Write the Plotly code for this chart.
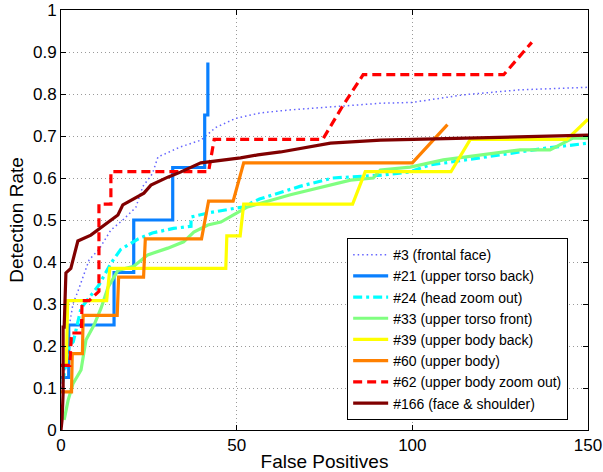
import plotly.graph_objects as go

# ---- data (False Positives, Detection Rate) ----
fp_3 = [0, 1, 2.3, 3.4, 4.8, 5.7, 8, 10.8, 14.2, 17.6, 21.3, 23.3, 26, 27.6, 34, 39.8, 44, 49.7, 56.8, 65, 76.7, 91, 100, 114.5, 130.7, 150]
dr_3 = [0.1, 0.14, 0.245, 0.3, 0.33, 0.35, 0.405, 0.43, 0.476, 0.5, 0.53, 0.58, 0.61, 0.65, 0.674, 0.69, 0.72, 0.742, 0.755, 0.762, 0.769, 0.778, 0.78, 0.798, 0.81, 0.816]

fp_21 = [0, 2.2, 2.2, 15.1, 15.1, 20.7, 20.7, 31.8, 31.8, 40.9, 40.9, 41.8, 41.8]
dr_21 = [0.125, 0.125, 0.25, 0.25, 0.375, 0.375, 0.5, 0.5, 0.625, 0.625, 0.75, 0.75, 0.875]

fp_24 = [0.5, 2.3, 3.5, 5.7, 10.8, 14.2, 17, 22, 26, 32, 37, 37, 42, 46.9, 51.7, 56.5, 68, 77.3, 91.5, 99, 105, 111, 120.5, 130, 138, 150]
dr_24 = [0.114, 0.2, 0.21, 0.29, 0.345, 0.397, 0.43, 0.455, 0.469, 0.48, 0.485, 0.507, 0.517, 0.524, 0.531, 0.55, 0.58, 0.6, 0.607, 0.614, 0.631, 0.638, 0.65, 0.662, 0.671, 0.683]

fp_33 = [0.9, 2, 3.4, 5.7, 7.1, 9.4, 11.4, 13.4, 16.2, 20.7, 24.7, 30.4, 34.9, 37.8, 41.8, 45.5, 49.1, 53.1, 65.3, 76.7, 82.4, 88.9, 90.9, 99.4, 108.8, 130.7, 139.2, 145.7, 150]
dr_33 = [0.024, 0.07, 0.11, 0.143, 0.214, 0.25, 0.29, 0.34, 0.38, 0.39, 0.417, 0.433, 0.448, 0.471, 0.488, 0.495, 0.512, 0.531, 0.56, 0.583, 0.595, 0.6, 0.619, 0.626, 0.643, 0.667, 0.667, 0.695, 0.695]

fp_39 = [1.5, 1.9, 13, 13.9, 46.9, 47.2, 51, 52, 83, 86.6, 111, 116.5, 144, 150]
dr_39 = [0.154, 0.308, 0.308, 0.385, 0.385, 0.462, 0.462, 0.538, 0.538, 0.615, 0.615, 0.692, 0.692, 0.74]

fp_60 = [0, 3, 3.2, 6.1, 6.3, 16, 16.4, 23.5, 24, 40, 42, 49, 52, 100, 110]
dr_60 = [0.091, 0.091, 0.182, 0.182, 0.273, 0.273, 0.364, 0.364, 0.455, 0.455, 0.545, 0.545, 0.636, 0.636, 0.727]

fp_62 = [0, 2.5, 3, 5.8, 6, 8, 10.8, 10.8, 14.2, 14.2, 42, 43.6, 74.5, 80, 86, 126, 134]
dr_62 = [0.154, 0.154, 0.231, 0.231, 0.308, 0.308, 0.33, 0.538, 0.538, 0.615, 0.615, 0.692, 0.692, 0.769, 0.846, 0.846, 0.923]

fp_166 = [0, 0.3, 0.6, 0.6, 0.9, 1.4, 2.8, 4.8, 8.5, 10.5, 14.2, 16.2, 17.6, 23.6, 25.6, 30.4, 34, 39.8, 51.1, 56, 62.5, 76.7, 91, 105, 150]
dr_166 = [0, 0.024, 0.088, 0.245, 0.245, 0.374, 0.385, 0.45, 0.464, 0.476, 0.5, 0.512, 0.536, 0.564, 0.583, 0.602, 0.614, 0.636, 0.648, 0.655, 0.662, 0.683, 0.69, 0.693, 0.702]

names = ["#3 (frontal face)", "#21 (upper torso back)", "#24 (head zoom out)",
         "#33 (upper torso front)", "#39 (upper body back)", "#60 (upper body)",
         "#62 (upper body zoom out)", "#166 (face & shoulder)"]
xs = [fp_3, fp_21, fp_24, fp_33, fp_39, fp_60, fp_62, fp_166]
ys = [dr_3, dr_21, dr_24, dr_33, dr_39, dr_60, dr_62, dr_166]

styles = [
    dict(color="#6464ff", width=1.5, dash="1.5px,3px"),
    dict(color="#0a80ff", width=3.2),
    dict(color="#00ffff", width=3.2, dash="9px,4px,3px,4px"),
    dict(color="#80ff80", width=3.2),
    dict(color="#ffff00", width=3.2),
    dict(color="#ff8000", width=3.2),
    dict(color="#ff0000", width=3.2, dash="9px,5px"),
    dict(color="#800000", width=3.2),
]

fig = go.Figure()
for x, y, n, s in zip(xs, ys, names, styles):
    fig.add_trace(go.Scatter(x=x, y=y, name=n, mode="lines", line=s))

axis_common = dict(
    showline=True, linecolor="black", linewidth=1, mirror="ticks",
    ticks="inside", ticklen=5, tickcolor="black",
    showgrid=True, gridcolor="#9a9a9a", griddash="1px,3px", gridwidth=1,
    zeroline=False, tickfont=dict(size=17, color="black"),
    automargin=False,
)

fig.update_layout(
    width=603, height=472,
    margin=dict(l=61, r=15, t=10, b=42),
    plot_bgcolor="white", paper_bgcolor="white",
    font=dict(family="Liberation Sans, Arial, sans-serif", size=16, color="black"),
    xaxis=dict(range=[0, 150], tickvals=[0, 50, 100, 150],
               title=dict(text="False Positives", font=dict(size=19), standoff=0),
               **axis_common),
    yaxis=dict(range=[0, 1], dtick=0.1,
               title=dict(text="Detection Rate", font=dict(size=19), standoff=4),
               **axis_common),
    legend=dict(x=0.543, y=0.457, xanchor="left", yanchor="top",
                bgcolor="white", bordercolor="black", borderwidth=1,
                font=dict(size=14), tracegroupgap=0, itemwidth=35),
    showlegend=True,
)

fig.write_html("out.html")
